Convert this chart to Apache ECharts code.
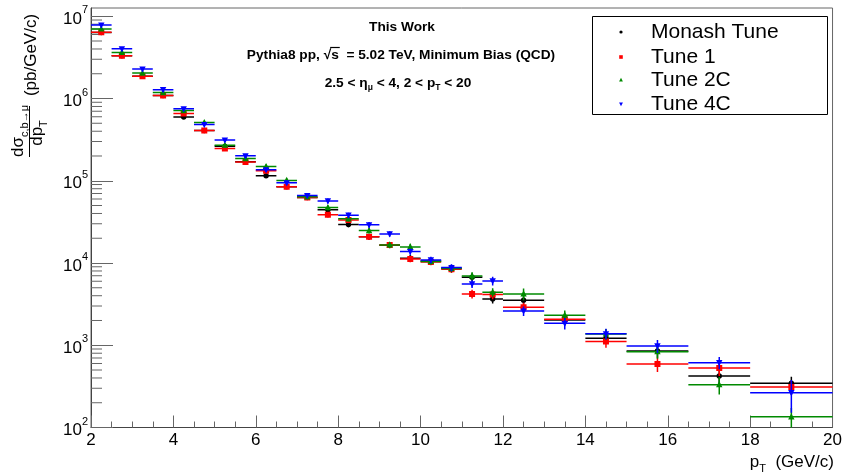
<!DOCTYPE html>
<html>
<head>
<meta charset="utf-8">
<script src="https://cdn.jsdelivr.net/npm/echarts@6/dist/echarts.min.js"></script>
<style>
  html, body { margin: 0; padding: 0; background: #fff; }
  #chart { width: 845px; height: 474px; }
</style>
</head>
<body>
<div id="chart"></div>
<script>
// bins in pT (GeV/c)
var binLo = [2, 2.5, 3, 3.5, 4, 4.5, 5, 5.5, 6, 6.5, 7, 7.5, 8, 8.5, 9, 9.5, 10, 10.5, 11, 11.5, 12, 13, 14, 15, 16.5, 18];
var binHi = [2.5, 3, 3.5, 4, 4.5, 5, 5.5, 6, 6.5, 7, 7.5, 8, 8.5, 9, 9.5, 10, 10.5, 11, 11.5, 12, 13, 14, 15, 16.5, 18, 20];
var binCenter = [2.25, 2.75, 3.25, 3.75, 4.25, 4.75, 5.25, 5.75, 6.25, 6.75, 7.25, 7.75, 8.25, 8.75, 9.25, 9.75, 10.25, 10.75, 11.25, 11.75, 12.5, 13.5, 14.5, 15.75, 17.25, 19];

// dsigma/dpT (pb/GeV/c)
var monash = [6.35e6, 3.3e6, 1.87e6, 1.09e6, 5.94e5, 4.08e5, 2.62e5, 1.70e5, 1.15e5, 8.43e4, 6.25e4, 4.43e4, 2.93e4, 2.08e4, 1.64e4, 1.14e4, 1.06e4, 8.64e3, 6.72e3, 3.66e3, 3.53e3, 2.03e3, 1.22e3, 852, 423, 345];
var tune1  = [6.4e6, 3.31e6, 1.87e6, 1.09e6, 6.57e5, 4.08e5, 2.46e5, 1.69e5, 1.32e5, 8.43e4, 6.27e4, 3.85e4, 3.34e4, 2.08e4, 1.66e4, 1.12e4, 1.03e4, 8.42e3, 4.21e3, 4.13e3, 2.90e3, 2.07e3, 1.11e3, 592, 529, 311];
var tune2C = [7.0e6, 3.63e6, 2.04e6, 1.18e6, 7.14e5, 5.11e5, 2.71e5, 1.86e5, 1.49e5, 1.01e5, 6.37e4, 4.72e4, 3.44e4, 2.48e4, 1.66e4, 1.57e4, 1.045e4, 8.6e3, 6.97e3, 4.41e3, 4.21e3, 2.32e3, 1.37e3, 836, 332, 135];
var tune4C = [7.82e6, 4.02e6, 2.28e6, 1.28e6, 7.49e5, 4.83e5, 3.12e5, 2.01e5, 1.36e5, 9.43e4, 6.61e4, 5.69e4, 3.81e4, 2.91e4, 2.26e4, 1.38e4, 1.09e4, 8.79e3, 5.57e3, 6.06e3, 2.61e3, 1.85e3, 1.38e3, 980, 614, 265];

// relative statistical errors
var monashErr = [0.04, 0.04, 0.04, 0.04, 0.05, 0.05, 0.05, 0.05, 0.06, 0.06, 0.06, 0.07, 0.07, 0.08, 0.08, 0.09, 0.09, 0.1, 0.11, 0.12, 0.12, 0.14, 0.15, 0.17, 0.2, 0.2];
var tune1Err  = [0.04, 0.04, 0.04, 0.04, 0.05, 0.05, 0.05, 0.05, 0.06, 0.06, 0.06, 0.07, 0.07, 0.08, 0.08, 0.09, 0.09, 0.1, 0.12, 0.12, 0.13, 0.14, 0.16, 0.2, 0.2, 0.2];
var tune2CErr = [0.04, 0.04, 0.04, 0.04, 0.05, 0.05, 0.05, 0.05, 0.06, 0.06, 0.06, 0.07, 0.07, 0.08, 0.08, 0.09, 0.09, 0.1, 0.11, 0.12, 0.16, 0.14, 0.15, 0.18, 0.24, 0.28];
var tune4CErr = [0.05, 0.05, 0.05, 0.05, 0.05, 0.05, 0.05, 0.05, 0.06, 0.06, 0.06, 0.07, 0.07, 0.08, 0.08, 0.09, 0.09, 0.1, 0.11, 0.12, 0.13, 0.16, 0.15, 0.18, 0.17, 0.43];

var seriesNames = ['Monash Tune', 'Tune 1', 'Tune 2C', 'Tune 4C'];
var colors = ['#000000', '#ff0000', '#008a00', '#0000ff'];
var FONT = '"Liberation Sans", Arial, Helvetica, sans-serif';
var TITLE_SIZE = 13.7;

function marker(kind, cx, cy, color, s) {
  if (kind === 'circle') {
    return { type: 'circle', shape: { cx: cx, cy: cy, r: 2.7 * s }, style: { fill: color } };
  }
  if (kind === 'square') {
    return { type: 'rect', shape: { x: cx - 3 * s, y: cy - 3 * s, width: 6 * s, height: 6 * s }, style: { fill: color } };
  }
  var d = kind === 'up' ? 1 : -1;
  return {
    type: 'polygon',
    shape: { points: [[cx, cy - 3.6 * s * d], [cx - 3.2 * s, cy + 2.6 * s * d], [cx + 3.2 * s, cy + 2.6 * s * d]] },
    style: { fill: color }
  };
}

function makeSeries(idx, values, errs, kind) {
  var color = colors[idx];
  var data = values.map(function (v, i) {
    return [binLo[i], binHi[i], binCenter[i], v, v * errs[i]];
  });
  return {
    name: seriesNames[idx],
    type: 'custom',
    clip: true,
    z: 10 + idx,
    encode: { x: [0, 1], y: 3 },
    data: data,
    renderItem: function (params, api) {
      var y = api.value(3), e = api.value(4);
      var lo = api.coord([api.value(0), y]);
      var hi = api.coord([api.value(1), y]);
      var c = api.coord([api.value(2), y]);
      var top = api.coord([api.value(2), y + e]);
      var bot = api.coord([api.value(2), Math.max(y - e, 1)]);
      var ls = { stroke: color, lineWidth: 1.5 };
      return {
        type: 'group',
        children: [
          { type: 'line', shape: { x1: lo[0], y1: c[1], x2: hi[0], y2: c[1] }, style: ls },
          { type: 'line', shape: { x1: c[0], y1: top[1], x2: c[0], y2: bot[1] }, style: ls },
          marker(kind, c[0], c[1], color, 1)
        ]
      };
    }
  };
}

// y minor tick positions (2..9 x 10^n)
var minorTickVals = [];
for (var p = 2; p < 7; p++) {
  for (var m = 2; m <= 9; m++) minorTickVals.push([2, m * Math.pow(10, p)]);
}

var chart = echarts.init(document.getElementById('chart'), null, { renderer: 'canvas' });

var legendY = [32, 57, 80, 104];
var legendKinds = ['circle', 'square', 'up', 'down'];
var legendEls = [{
  type: 'rect', shape: { x: 592.5, y: 16.5, width: 235, height: 98 },
  style: { fill: '#fff', stroke: '#000', lineWidth: 1 }, z: 100
}];
seriesNames.forEach(function (n, i) {
  var mk = marker(legendKinds[i], 621, legendY[i], colors[i], 0.6);
  mk.z = 101;
  legendEls.push(mk);
  legendEls.push({
    type: 'text', x: 651, y: legendY[i], z: 101,
    style: { text: n, fontSize: 21, fontFamily: FONT, fill: '#000', align: 'left', verticalAlign: 'middle', textAlign: 'left', textVerticalAlign: 'middle' }
  });
});

// overline of sqrt(s): measure the title text to find the "s"
var line2 = 'Pythia8 pp, \u221As  = 5.02 TeV, Minimum Bias (QCD)';
var mctx = document.createElement('canvas').getContext('2d');
mctx.font = 'bold ' + TITLE_SIZE + 'px ' + FONT;
var line2W = mctx.measureText(line2).width;
var line2X0 = 401 - line2W / 2;
var ovX1 = line2X0 + mctx.measureText('Pythia8 pp, \u221A').width - 1;
var ovX2 = line2X0 + mctx.measureText('Pythia8 pp, \u221As').width + 1;

var subRich = {
  b: { fontSize: TITLE_SIZE, fontWeight: 'bold', fontFamily: FONT, fill: '#000', color: '#000', lineHeight: 16, verticalAlign: 'top' },
  s: { fontSize: 8.5, fontWeight: 'bold', fontFamily: FONT, fill: '#000', color: '#000', lineHeight: 9, verticalAlign: 'bottom' }
};

var titleEls = [
  { type: 'text', x: 402, y: 27, style: { text: 'This Work', fontSize: TITLE_SIZE, fontWeight: 'bold', fontFamily: FONT, fill: '#000', align: 'center', verticalAlign: 'middle', textAlign: 'center', textVerticalAlign: 'middle' } },
  { type: 'text', x: 401, y: 55, style: { text: line2, fontSize: TITLE_SIZE, fontWeight: 'bold', fontFamily: FONT, fill: '#000', align: 'center', verticalAlign: 'middle', textAlign: 'center', textVerticalAlign: 'middle' } },
  { type: 'line', shape: { x1: ovX1, y1: 47.5, x2: ovX2, y2: 47.5 }, style: { stroke: '#000', lineWidth: 1.2 } },
  { type: 'text', x: 398, y: 84, style: { text: '{b|2.5 < \u03B7}{s|\u03BC}{b| < 4, 2 < p}{s|T}{b| < 20}', rich: subRich, align: 'center', verticalAlign: 'middle', textAlign: 'center', textVerticalAlign: 'middle' } }
];

var yTitleRich = {
  m: { fontSize: 17, fontFamily: FONT, fill: '#000', color: '#000', lineHeight: 20, verticalAlign: 'top' },
  s: { fontSize: 11, fontFamily: FONT, fill: '#000', color: '#000', lineHeight: 11, verticalAlign: 'bottom' }
};
var yTitleEls = [
  { type: 'text', x: 20, y: 131, rotation: Math.PI / 2, style: { text: '{m|d\u03C3}{s|c,b\u2192\u03BC}', rich: yTitleRich, align: 'center', verticalAlign: 'middle', textAlign: 'center', textVerticalAlign: 'middle' } },
  { type: 'line', shape: { x1: 29.5, y1: 106, x2: 29.5, y2: 157 }, style: { stroke: '#000', lineWidth: 1 } },
  { type: 'text', x: 39, y: 133, rotation: Math.PI / 2, style: { text: '{m|dp}{s|T}', rich: yTitleRich, align: 'center', verticalAlign: 'middle', textAlign: 'center', textVerticalAlign: 'middle' } },
  { type: 'text', x: 31, y: 55, rotation: Math.PI / 2, style: { text: '(pb/GeV/c)', fontSize: 17, fontFamily: FONT, fill: '#000', align: 'center', verticalAlign: 'middle', textAlign: 'center', textVerticalAlign: 'middle' } }
];

var xTitleEls = [
  { type: 'text', x: 834, y: 464, style: { text: '{m|p}{s|T}{m|  (GeV/c)}', rich: yTitleRich, align: 'right', verticalAlign: 'middle', textAlign: 'right', textVerticalAlign: 'middle' } }
];

var option = {
  animation: false,
  backgroundColor: '#fff',
  grid: { left: 91, right: 11, top: 8, bottom: 46.5, show: true, borderColor: '#666', borderWidth: 1, backgroundColor: 'transparent' },
  xAxis: {
    type: 'value', min: 2, max: 20, interval: 2,
    axisLine: { show: true, onZero: false, lineStyle: { color: '#444', width: 1 } },
    axisTick: { show: true, inside: true, length: 12, lineStyle: { color: '#666' } },
    minorTick: { show: true, splitNumber: 4, length: 6, lineStyle: { color: '#666' } },
    splitLine: { show: false },
    axisLabel: { fontSize: 17, fontFamily: FONT, color: '#000', margin: 4 }
  },
  yAxis: {
    type: 'log', logBase: 10, min: 100, max: 1.26e7,
    axisLine: { show: true, lineStyle: { color: '#444', width: 1 } },
    axisTick: { show: true, inside: true, length: 22, lineStyle: { color: '#666' } },
    splitLine: { show: false },
    axisLabel: {
      margin: 3,
      showMaxLabel: false,
      formatter: function (v) {
        var l = Math.log10(v), ex = Math.round(l);
        if (Math.abs(l - ex) > 1e-6) return '';
        return '{b|10}{e|' + ex + '}';
      },
      rich: {
        b: { fontSize: 17, fontFamily: FONT, color: '#000', lineHeight: 23, verticalAlign: 'bottom' },
        e: { fontSize: 11, fontFamily: FONT, color: '#000', lineHeight: 11, verticalAlign: 'top' }
      }
    }
  },
  graphic: legendEls.concat(titleEls, yTitleEls, xTitleEls),
  series: [
    {
      type: 'custom', silent: true, clip: false, z: 5,
      data: minorTickVals,
      renderItem: function (params, api) {
        var pt = api.coord([api.value(0), api.value(1)]);
        return { type: 'line', shape: { x1: pt[0], y1: pt[1], x2: pt[0] + 11, y2: pt[1] }, style: { stroke: '#666', lineWidth: 1 } };
      }
    },
    makeSeries(0, monash, monashErr, 'circle'),
    makeSeries(1, tune1, tune1Err, 'square'),
    makeSeries(2, tune2C, tune2CErr, 'up'),
    makeSeries(3, tune4C, tune4CErr, 'down')
  ]
};

chart.setOption(option);
</script>
</body>
</html>
